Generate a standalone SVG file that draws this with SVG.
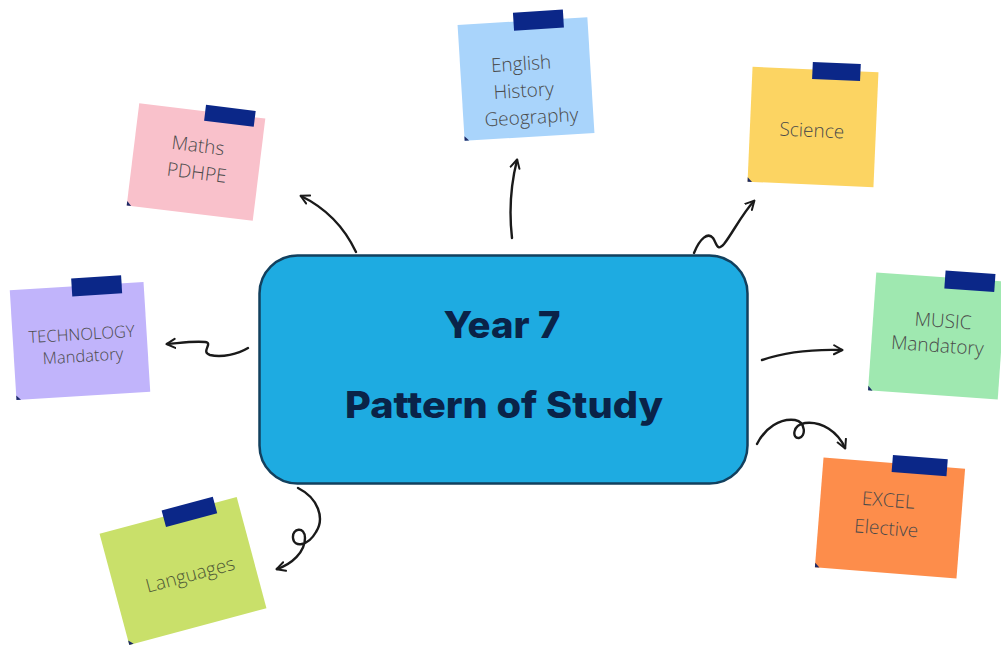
<svg xmlns="http://www.w3.org/2000/svg" width="1001" height="648" viewBox="0 0 1001 648">
  <defs>
    <style>
      .note-text { font-family: "Open Sans", "Liberation Sans", sans-serif; font-weight: 300; font-size: 19px; fill: #4a4a4a; text-anchor: middle; }
      .tape { fill: #0b2788; }
      .corner { fill: #1c2a66; }
      .conn { fill: none; stroke: #1a1a1a; stroke-width: 2.4; stroke-linecap: round; stroke-linejoin: round; }
      .title { font-family: "Inter", "Liberation Sans", sans-serif; font-weight: 800; font-size: 37px; fill: #0a2348; text-anchor: middle; }
    </style>
    <marker id="head" viewBox="0 0 12 12" refX="9" refY="6" markerWidth="12" markerHeight="12" markerUnits="userSpaceOnUse" orient="auto">
      <path d="M1,1.5 L9.5,6 L1,10.5" fill="none" stroke="#1a1a1a" stroke-width="2" stroke-linecap="round" stroke-linejoin="round"/>
    </marker>
  </defs>

  <rect width="1001" height="648" fill="#ffffff"/>

  <!-- connectors -->
  <g id="connectors">
    <path class="conn" marker-end="url(#head)" d="M356,252 Q338,214 301,196"/>
    <path class="conn" marker-end="url(#head)" d="M512,238 C509,212 511,184 517,160"/>
    <path class="conn" marker-end="url(#head)" d="M694,253 C700,238 708,232 713,238 C717,244 717,252 724,244 C732,234 742,214 754,201"/>
    <path class="conn" marker-end="url(#head)" d="M248,348 C238,354 222,358 210,355 C200,352 214,343 205,342 C192,341 180,343 167,344"/>
    <path class="conn" marker-end="url(#head)" d="M762,360 C785,352 810,349 842,350"/>
    <path class="conn" marker-end="url(#head)" d="M757,444 C765,428 780,418 795,420 C806,422 806,437 799,438 C792,439 792,425 805,423 C822,421 838,432 845,448"/>
    <path class="conn" marker-end="url(#head)" d="M298,488 C318,498 325,518 316,532 C308,546 294,548 293,538 C292,528 305,526 305,538 C305,552 292,564 277,569"/>
  </g>

  <!-- central node -->
  <g id="centre">
    <rect x="259.5" y="255.5" width="488" height="228" rx="38" ry="38" fill="#1eabe1" stroke="#12405e" stroke-width="2.5"/>
    <text class="title" x="502" y="338" textLength="117" lengthAdjust="spacingAndGlyphs">Year 7</text>
    <text class="title" x="504" y="418" textLength="318" lengthAdjust="spacingAndGlyphs">Pattern of Study</text>
  </g>

  <!-- notes -->
  <g id="maths" transform="translate(196,162) rotate(7)">
    <rect x="-63.5" y="-51.5" width="127" height="103" fill="#f9c1cb"/>
    <path class="corner" d="M-63.5,47 L-59,51.5 L-63.5,51.5 Z"/>
    <rect class="tape" x="3" y="-58" width="50" height="16"/>
    <text class="note-text" x="0" y="-10">Maths</text>
    <text class="note-text" x="2" y="17">PDHPE</text>
  </g>

  <g id="english" transform="translate(526,79) rotate(-3.5)">
    <rect x="-65" y="-58" width="130" height="116" fill="#a9d4fb"/>
    <path class="corner" d="M-65,53.5 L-60.5,58 L-65,58 Z"/>
    <rect class="tape" x="-9" y="-67" width="50" height="18"/>
    <text class="note-text" x="-4" y="-9">English</text>
    <text class="note-text" x="-3" y="18">History</text>
    <text class="note-text" x="3" y="45">Geography</text>
  </g>

  <g id="science" transform="translate(813,127) rotate(2.5)">
    <rect x="-63" y="-57.5" width="126" height="115" fill="#fcd462"/>
    <path class="corner" d="M-63,53 L-58.5,57.5 L-63,57.5 Z"/>
    <rect class="tape" x="-3" y="-65" width="48" height="17"/>
    <text class="note-text" x="-1" y="10">Science</text>
  </g>

  <g id="technology" transform="translate(80,341) rotate(-3.5)">
    <rect x="-67" y="-55" width="134" height="110" fill="#c1b4fb"/>
    <path class="corner" d="M-67,50.5 L-62.5,55 L-67,55 Z"/>
    <rect class="tape" x="-5" y="-63" width="50" height="18"/>
    <text class="note-text" x="2" y="-1" style="font-size:16.5px">TECHNOLOGY</text>
    <text class="note-text" x="2" y="21" style="font-size:16.5px">Mandatory</text>
  </g>

  <g id="music" transform="translate(937,336) rotate(4)">
    <rect x="-65" y="-59" width="130" height="118" fill="#9fe8b0"/>
    <path class="corner" d="M-65,54.5 L-60.5,59 L-65,59 Z"/>
    <rect class="tape" x="4" y="-66" width="50" height="18"/>
    <text class="note-text" x="5" y="-9">MUSIC</text>
    <text class="note-text" x="1" y="16">Mandatory</text>
  </g>

  <g id="excel" transform="translate(890,518) rotate(4.5)">
    <rect x="-71" y="-55" width="142" height="110" fill="#fd8d4b"/>
    <path class="corner" d="M-71,50.5 L-66.5,55 L-71,55 Z"/>
    <rect class="tape" x="-2" y="-63" width="55" height="17"/>
    <text class="note-text" x="-3" y="-11">EXCEL</text>
    <text class="note-text" x="-3" y="17">Elective</text>
  </g>

  <g id="languages" transform="translate(183,571) rotate(-15)">
    <rect x="-71" y="-57.5" width="142" height="115" fill="#c9e06a"/>
    <path class="corner" d="M-71,53 L-66.5,57.5 L-71,57.5 Z"/>
    <rect class="tape" x="-5" y="-64" width="53" height="17"/>
    <text class="note-text" x="6" y="12" style="fill:#4f5a36">Languages</text>
  </g>
</svg>
